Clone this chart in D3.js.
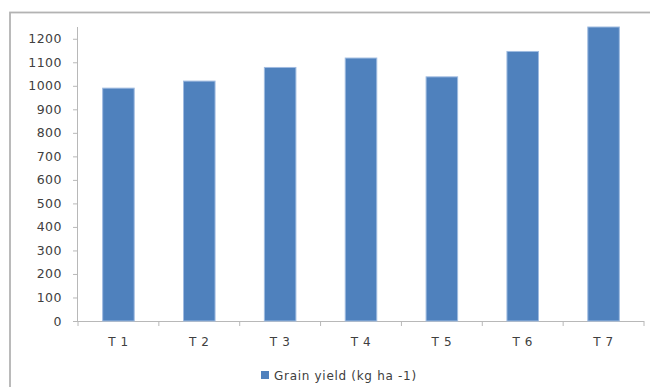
<!DOCTYPE html>
<html>
<head>
<meta charset="utf-8">
<script src="https://cdn.jsdelivr.net/npm/d3@7"></script>
<style>
  html, body { margin: 0; padding: 0; background: #fff; }
  svg { display: block; }
  text { font-family: "DejaVu Sans", sans-serif; fill: #404040; }
</style>
</head>
<body>
<svg id="chart" width="650" height="387"></svg>
<script>
// Treatments and grain yield values
const categories = ["T 1", "T 2", "T 3", "T 4", "T 5", "T 6", "T 7"];
const yieldValues = [990, 1020, 1078, 1118, 1038, 1146, 1250];
const yTicks = [0, 100, 200, 300, 400, 500, 600, 700, 800, 900, 1000, 1100, 1200];
const seriesName = "Grain yield (kg ha -1)";

const svg = d3.select("#chart");
const W = 650, H = 387;
const margin = { left: 78, right: 6, top: 27, bottom: 66 };

// Outer chart frame (runs off the right and bottom edges)
svg.append("rect")
  .attr("x", 10).attr("y", 12.5)
  .attr("width", W + 20).attr("height", H + 20)
  .attr("fill", "none")
  .attr("stroke", "#b3b3b3")
  .attr("stroke-width", 1.8);

const x = d3.scaleBand()
  .domain(categories)
  .range([margin.left, W - margin.right])
  .paddingInner(0.61)
  .paddingOuter(0.305);

const y = d3.scaleLinear()
  .domain([0, 1250])
  .range([H - margin.bottom, margin.top]);

// Y axis
const yAxis = svg.append("g")
  .attr("transform", `translate(${margin.left},0)`)
  .call(d3.axisLeft(y).tickValues(yTicks).tickSize(5).tickPadding(11).tickFormat(d3.format("d")));
yAxis.select(".domain").attr("stroke", "#b8b8b8").attr("d", `M-0.5,${y(0)}V${margin.top}`);
yAxis.selectAll(".tick line").attr("stroke", "#b8b8b8");
yAxis.selectAll(".tick text")
  .attr("font-size", 12.5)
  .style("letter-spacing", "0.5px")
  .attr("fill", "#404040");

// X axis with tick marks at band boundaries
const xAxisG = svg.append("g").attr("transform", `translate(0,${y(0)})`);
xAxisG.append("line")
  .attr("x1", margin.left).attr("x2", W - margin.right)
  .attr("y1", 0.5).attr("y2", 0.5)
  .attr("stroke", "#b8b8b8");
const boundaries = d3.range(categories.length + 1).map(i => margin.left + i * (W - margin.left - margin.right) / categories.length);
xAxisG.selectAll("line.tk").data(boundaries).join("line")
  .attr("class", "tk")
  .attr("x1", d => d).attr("x2", d => d)
  .attr("y1", 0).attr("y2", 5)
  .attr("stroke", "#b8b8b8");
xAxisG.selectAll("text").data(categories).join("text")
  .attr("x", d => x(d) + x.bandwidth() / 2)
  .attr("y", 25)
  .attr("text-anchor", "middle")
  .attr("font-size", 12)
  .style("letter-spacing", "0.6px")
  .text(d => d);

// Bars
svg.append("g").selectAll("rect").data(yieldValues).join("rect")
  .attr("x", (d, i) => x(categories[i]))
  .attr("y", d => y(d))
  .attr("width", x.bandwidth())
  .attr("height", d => y(0) - y(d))
  .attr("fill", "#4f81bd")
  .attr("stroke", "#9fbbe0")
  .attr("stroke-width", 1);

// Legend
const lg = svg.append("g").attr("transform", "translate(261,371)");
lg.append("rect").attr("width", 8).attr("height", 8).attr("fill", "#4f81bd");
lg.append("text")
  .attr("x", 13).attr("y", 8.5)
  .attr("font-size", 12)
  .style("letter-spacing", "0.7px")
  .text(seriesName);
</script>
</body>
</html>
